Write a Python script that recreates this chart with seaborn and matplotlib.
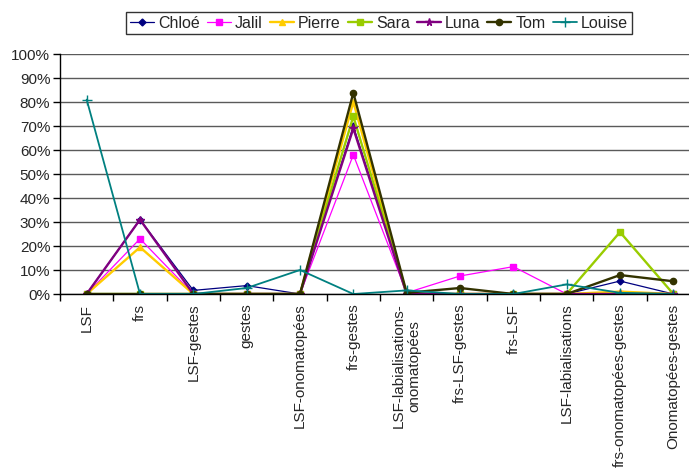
import pandas as pd
import seaborn as sns
import matplotlib.pyplot as plt
from matplotlib.ticker import PercentFormatter, MultipleLocator

categories = ['LSF', 'frs', 'LSF-gestes', 'gestes', 'LSF-onomatopées', 'frs-gestes',
              'LSF-labialisations-\nonomatopées', 'frs-LSF-gestes', 'frs-LSF',
              'LSF-labialisations', 'frs-onomatopées-gestes', 'Onomatopées-gestes']

chloe = [0, 31, 1.5, 3.5, 0, 70, 0.5, 0, 0, 0, 5.4, 0]
jalil = [0, 23, 0, 0, 0, 58, 0.5, 7.5, 11.4, 0, 0, 0]
pierre = [0, 19.5, 0, 0, 0, 80, 0, 0, 0, 0, 1, 0]
sara = [0, 0, 0, 0, 0, 74, 0, 0, 0, 0, 25.8, 0]
luna = [0, 31, 0, 0, 0, 69, 0, 0, 0, 0, 0, 0]
tom = [0, 0, 0, 0, 0, 83.8, 0.5, 2.5, 0, 0, 7.9, 5.3]
louise = [81, 0, 0, 2.5, 10, 0, 1.5, 0, 0, 4, 0.5, 0]

names = ['Chloé', 'Jalil', 'Pierre', 'Sara', 'Luna', 'Tom', 'Louise']
series = [chloe, jalil, pierre, sara, luna, tom, louise]
colors = ['#000080', '#FF00FF', '#FFCC00', '#99CC00', '#800080', '#333300', '#008080']
markers = ['D', 's', '^', 's', '*', 'o', '+']
widths = [0.9, 0.9, 1.7, 1.7, 1.7, 1.7, 1.3]
msizes = [3.5, 4.5, 4.5, 4.5, 5.5, 4.5, 6.5]

sns.set_style('white')
plt.rcParams['font.family'] = ['Liberation Sans', 'DejaVu Sans']

fig = plt.figure(figsize=(6.89, 4.70), dpi=100)
ax = fig.add_axes([60 / 689, 176 / 470, 640 / 689, 240 / 470])

for name, vals, c, m, lw, ms in zip(names, series, colors, markers, widths, msizes):
    df = pd.DataFrame({'cat': categories, 'val': [v / 100 for v in vals]})
    sns.lineplot(data=df, x='cat', y='val', sort=False, color=c, marker=m,
                 markersize=ms, markeredgecolor=c, markeredgewidth=1.0,
                 linewidth=lw, label=name, ax=ax, legend=False)

ax.set_xlim(-0.5, len(categories) - 0.5)
ax.set_ylim(0, 1)
ax.yaxis.set_major_locator(MultipleLocator(0.1))
ax.yaxis.set_major_formatter(PercentFormatter(1.0, decimals=0))
ax.yaxis.grid(True, color='#5a5a5a', linewidth=1.0)
ax.set_axisbelow(True)
ax.set_xlabel('')
ax.set_ylabel('')

ax.set_xticks(range(len(categories)))
ax.set_xticklabels(categories, rotation=90, va='top', ha='center', fontsize=11)
ax.set_xticks([i + 0.5 for i in range(-1, len(categories))], minor=True)
ax.tick_params(axis='x', which='major', length=0, pad=7)
ax.tick_params(axis='x', which='minor', length=5, width=1, color='black', direction='out', bottom=True)
ax.tick_params(axis='y', length=5, width=1, color='black', direction='out', left=True, labelsize=11, pad=2)

for side in ['top', 'right']:
    ax.spines[side].set_visible(False)
for side in ['left', 'bottom']:
    ax.spines[side].set_color('black')
    ax.spines[side].set_linewidth(1.0)

handles, labels = ax.get_legend_handles_labels()
leg = fig.legend(handles, labels, loc='center', bbox_to_anchor=(379 / 689, 1 - 23 / 470),
                 ncol=7, fontsize=11.5, frameon=True, fancybox=False, edgecolor='black',
                 handlelength=1.5, handletextpad=0.25, columnspacing=0.45,
                 borderpad=0.25, borderaxespad=0)
leg.get_frame().set_linewidth(1.0)

fig.savefig('out.png', dpi=100)
